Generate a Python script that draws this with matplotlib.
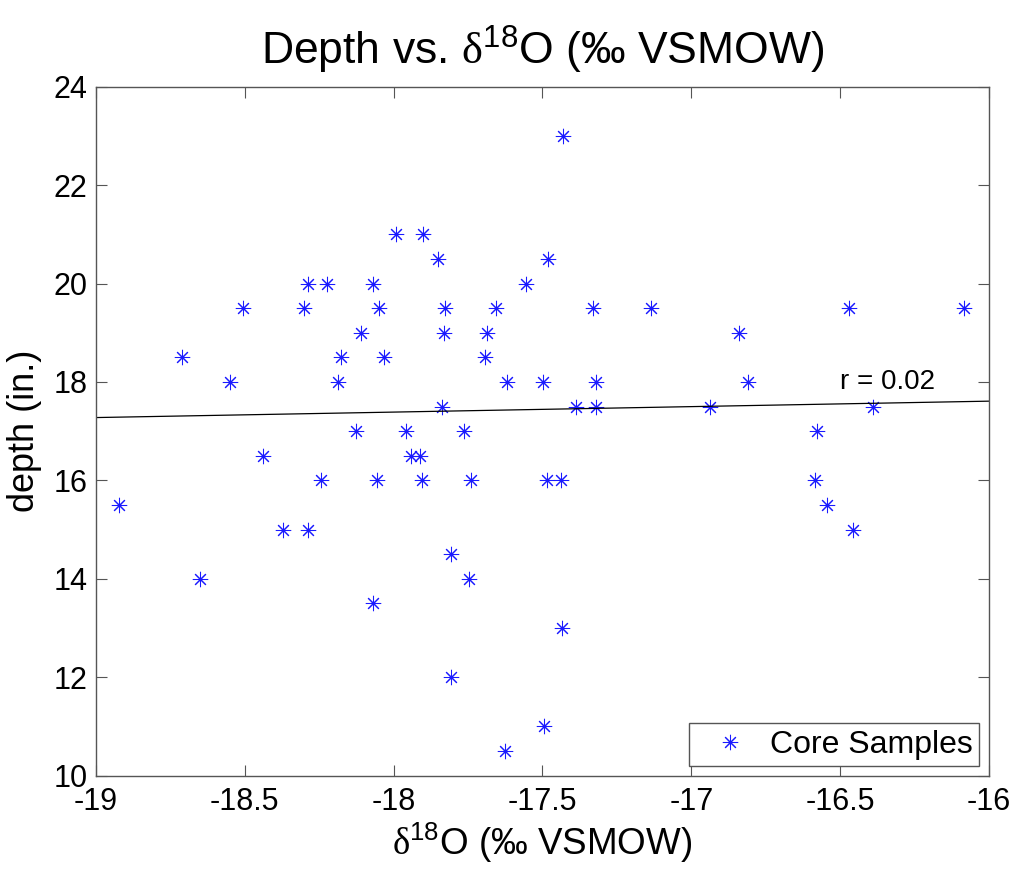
import numpy as np
import matplotlib
matplotlib.use('Agg')
from matplotlib import pyplot as plt

plt.rcParams['font.family'] = ['Liberation Sans', 'DejaVu Sans']
plt.rcParams['mathtext.fontset'] = 'custom'
plt.rcParams['mathtext.rm'] = 'Liberation Serif'
plt.rcParams['mathtext.sf'] = 'Liberation Sans'
plt.rcParams['axes.unicode_minus'] = False

# d18O (permil VSMOW) and depth (in.)
d18o = [-18.921, -18.710, -18.650, -18.549, -18.504, -18.439, -18.370, -18.300,
        -18.287, -18.286, -18.245, -18.222, -18.187, -18.176, -18.127, -18.109,
        -18.069, -18.069, -18.054, -18.050, -18.032, -17.992, -17.959, -17.942,
        -17.911, -17.903, -17.900, -17.852, -17.838, -17.829, -17.826, -17.808,
        -17.806, -17.763, -17.745, -17.740, -17.693, -17.687, -17.655, -17.627,
        -17.620, -17.556, -17.497, -17.495, -17.484, -17.480, -17.437, -17.434,
        -17.432, -17.387, -17.331, -17.320, -17.320, -17.136, -16.937, -16.840,
        -16.810, -16.586, -16.579, -16.545, -16.469, -16.456, -16.389, -16.084]
depth = [15.5, 18.5, 14, 18, 19.5, 16.5, 15, 19.5,
         20, 15, 16, 20, 18, 18.5, 17, 19,
         20, 13.5, 16, 19.5, 18.5, 21, 17, 16.5,
         16.5, 16, 21, 20.5, 17.5, 19, 19.5, 14.5,
         12, 17, 14, 16, 18.5, 19, 19.5, 10.5,
         18, 20, 18, 11, 16, 20.5, 16, 13,
         23, 17.5, 19.5, 18, 17.5, 19.5, 17.5, 19,
         18, 16, 17, 15.5, 19.5, 15, 17.5, 19.5]

x = np.array(d18o)
y = np.array(depth)
# droite de regression + coefficient de correlation
p = np.polyfit(x, y, 1)
r = np.corrcoef(x, y)[0, 1]

fig = plt.figure(figsize=(10.11, 8.71), dpi=100)
ax = fig.add_axes([0.0947, 0.1094, 0.8836, 0.7911])

ax.plot(x, y, linestyle='none', marker=(8, 2, 0), markersize=11,
        markeredgewidth=0.75, color='#1a1aff', label='Core Samples')
xl = np.array([-19, -16])
ax.plot(xl, np.polyval(p, xl), color='black', linewidth=0.9)
ax.text(-16.5, 18, 'r = 0.02', fontsize=20, va='center', ha='left')

ax.set_xlim(-19, -16)
ax.set_ylim(10, 24)
ax.set_xticks(np.arange(-19, -15.9, 0.5))
ax.set_xticklabels(['-19', '-18.5', '-18', '-17.5', '-17', '-16.5', '-16'])
ax.set_yticks(np.arange(10, 25, 2))
ax.tick_params(direction='in', length=8, width=0.8, color='#555555',
               labelsize=22, top=True, right=True)
ax.tick_params(axis='x', pad=8)
ax.tick_params(axis='y', pad=6)
for s in ax.spines.values():
    s.set_color('#555555')
    s.set_linewidth(1.0)

ax.set_title('Depth vs. $\\mathrm{\\delta}^{\\mathsf{18}}$O (‰ VSMOW)', fontsize=32, pad=16)
ax.set_xlabel('$\\mathrm{\\delta}^{\\mathsf{18}}$O (‰ VSMOW)', fontsize=26.5, labelpad=2)
ax.set_ylabel('depth (in.)', fontsize=26, labelpad=8)

leg = ax.legend(loc='lower right', fontsize=23, fancybox=False, framealpha=1,
                edgecolor='#555555', borderaxespad=0.3, handlelength=2.2,
                handletextpad=0.15, borderpad=0.2)
leg.get_frame().set_linewidth(1.0)

plt.savefig('out.png', dpi=100)
